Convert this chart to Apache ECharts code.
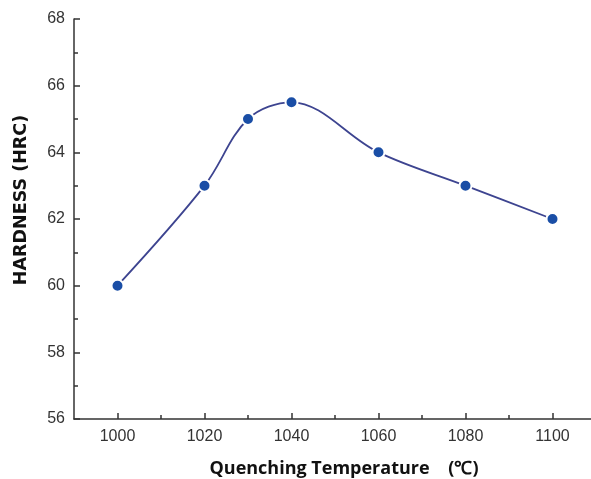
<!DOCTYPE html>
<html><head><meta charset="utf-8">
<script src="https://cdn.jsdelivr.net/npm/echarts@6/dist/echarts.min.js"></script>
<style>html,body{margin:0;padding:0;background:#fff}#c{width:591px;height:479px}</style>
</head><body><div id="c"></div>
<script>
const temps = [1000, 1020, 1030, 1040, 1060, 1080, 1100];
const hardness = [60, 63, 65, 65.5, 64, 63, 62];
const xMajorTicks = [1000, 1020, 1040, 1060, 1080, 1100];
const xMinorTicks = [1010, 1030, 1050, 1070, 1090];
const xName = 'Quenching Temperature    (\u2103)';
const yName = 'HARDNESS (HRC)';

const chart = echarts.init(document.getElementById('c'));
const axisLine = {show: true, lineStyle: {color: '#333', width: 1.5}};
chart.setOption({
  animation: false,
  backgroundColor: '#fff',
  grid: {left: 74, top: 19, right: -5, bottom: 60, outerBoundsMode: 'none', containLabel: false},
  xAxis: [{
    type: 'value', min: 990, max: 1110, interval: 10,
    axisLine: axisLine,
    axisTick: {show: true, inside: true, length: 6, customValues: xMajorTicks, lineStyle: {color: '#333', width: 1.5}},
    axisLabel: {customValues: xMajorTicks, formatter: v => String(v), color: '#333', fontSize: 16, fontFamily: 'Liberation Sans', margin: 10},
    splitLine: {show: false},
    name: xName, nameLocation: 'middle', nameGap: 41,
    nameTextStyle: {fontFamily: 'Open Sans', fontWeight: 'bold', fontSize: 18, color: '#111', padding: [0, 0, 0, 18]}
  }, {
    type: 'value', min: 990, max: 1110, position: 'bottom',
    axisLine: {show: false},
    axisTick: {show: true, inside: true, length: 4, customValues: xMinorTicks, lineStyle: {color: '#333', width: 1.5}},
    axisLabel: {show: false},
    splitLine: {show: false}
  }],
  yAxis: {
    type: 'value', min: 56, max: 68, interval: 2,
    axisLine: axisLine,
    axisTick: {show: true, inside: true, length: 6, lineStyle: {color: '#333', width: 1.5}},
    minorTick: {show: true, splitNumber: 2, length: 4, lineStyle: {color: '#333', width: 1.5}},
    axisLabel: {color: '#333', fontSize: 16, fontFamily: 'Liberation Sans', margin: 9},
    splitLine: {show: false},
    name: yName, nameLocation: 'middle', nameGap: 44,
    nameTextStyle: {fontFamily: 'DejaVu Sans', fontWeight: 'bold', fontSize: 17.5, color: '#111', padding: [0, 0, 0, 38]}
  },
  series: [{
    type: 'line', xAxisIndex: 0,
    data: temps.map((t, i) => [t, hardness[i]]),
    smooth: 0.35,
    symbol: 'circle', symbolSize: 12,
    lineStyle: {color: '#3d4490', width: 1.8},
    itemStyle: {color: '#1a4ea6', borderColor: '#fff', borderWidth: 2}
  }]
});
</script></body></html>
